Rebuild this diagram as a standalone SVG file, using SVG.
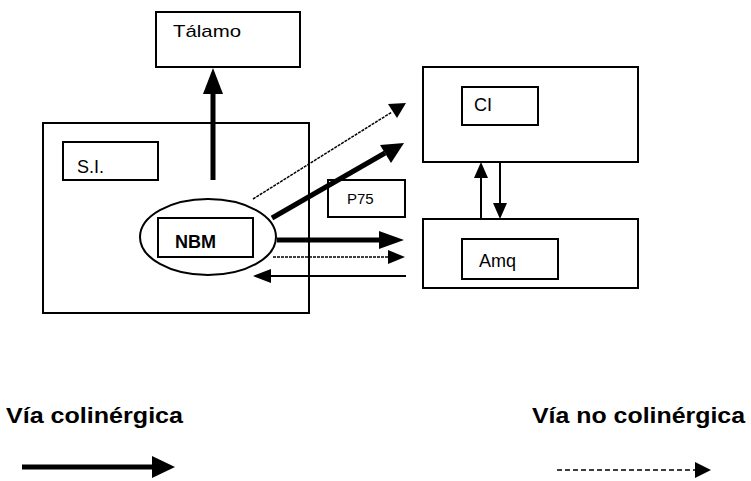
<svg xmlns="http://www.w3.org/2000/svg" width="751" height="481" viewBox="0 0 751 481">
<style>
.box{fill:#fff;stroke:#000;stroke-width:2}
.t{font-family:"Liberation Sans",Arial,sans-serif;fill:#000}
.b{font-weight:bold}
.thick{stroke:#000;stroke-width:5;fill:none}
.thin{stroke:#000;stroke-width:2;fill:none}
.dot{stroke:#000;stroke-width:1.5;fill:none;stroke-dasharray:3 1}
.dash{stroke:#000;stroke-width:1.5;fill:none;stroke-dasharray:5 3}
.head{fill:#000}
</style>
<rect width="751" height="481" fill="#fff"/>
<g id="talamo">
<rect class="box" x="156" y="12" width="144" height="55"/>
<text class="t" x="173" y="37" font-size="17" textLength="68" lengthAdjust="spacingAndGlyphs">Tálamo</text>
</g>
<g id="si-container">
<rect class="box" x="43" y="123" width="266" height="190"/>
</g>
<g id="si">
<rect class="box" x="63" y="142" width="95" height="38"/>
<text class="t" x="77" y="173" font-size="18">S.I.</text>
</g>
<g id="nbm">
<ellipse cx="208" cy="237" rx="68" ry="38" fill="none" stroke="#000" stroke-width="2"/>
<rect class="box" x="158" y="218" width="95" height="39"/>
<text class="t" x="175" y="248" font-size="18" font-weight="bold">NBM</text>
</g>
<g id="p75">
<rect class="box" x="328" y="180" width="77" height="37"/>
<text class="t" x="347" y="204" font-size="15">P75</text>
</g>
<g id="ci-container">
<rect class="box" x="423" y="67" width="215" height="95"/>
</g>
<g id="ci">
<rect class="box" x="462" y="87" width="76" height="38"/>
<text class="t" x="474" y="111" font-size="18">CI</text>
</g>
<g id="amg-container">
<rect class="box" x="423" y="219" width="215" height="69"/>
</g>
<g id="amg">
<rect class="box" x="462" y="239" width="96" height="40"/>
<text class="t" x="479" y="267" font-size="18">Amq</text>
</g>
<g id="connectors">
<line class="thick" x1="213" y1="180" x2="213" y2="90"/>
<polygon class="head" points="213,68 203,94 223,94"/>
<line class="dot" x1="253" y1="199" x2="392" y2="112"/>
<polygon class="head" points="406,103 388,104 397,118"/>
<line class="thick" x1="272" y1="218" x2="385" y2="153"/>
<polygon class="head" points="404,143 380,145 391,163"/>
<line class="thick" x1="277" y1="240" x2="382" y2="240"/>
<polygon class="head" points="404,240 379,231 379,249"/>
<line class="dot" x1="273" y1="257" x2="390" y2="257"/>
<polygon class="head" points="405,257 388,250 388,264"/>
<line class="thin" x1="406" y1="276" x2="268" y2="276"/>
<polygon class="head" points="253,276 271,269 271,283"/>
<line class="thin" x1="481" y1="219" x2="481" y2="176"/>
<polygon class="head" points="481,162 474,178 488,178"/>
<line class="thin" x1="500" y1="162" x2="500" y2="205"/>
<polygon class="head" points="500,219 493,203 507,203"/>
</g>
<g id="legend">
<text class="t b" x="6" y="423" font-size="22" textLength="177" lengthAdjust="spacingAndGlyphs">Vía colinérgica</text>
<line class="thick" x1="22" y1="467" x2="155" y2="467" stroke-width="4"/>
<polygon class="head" points="175,467 152,456 152,478"/>
<text class="t b" x="532" y="423" font-size="22" textLength="213" lengthAdjust="spacingAndGlyphs">Vía no colinérgica</text>
<line class="dash" x1="557" y1="470" x2="697" y2="470"/>
<polygon class="head" points="711,470 695,462 695,478"/>
</g>
</svg>
